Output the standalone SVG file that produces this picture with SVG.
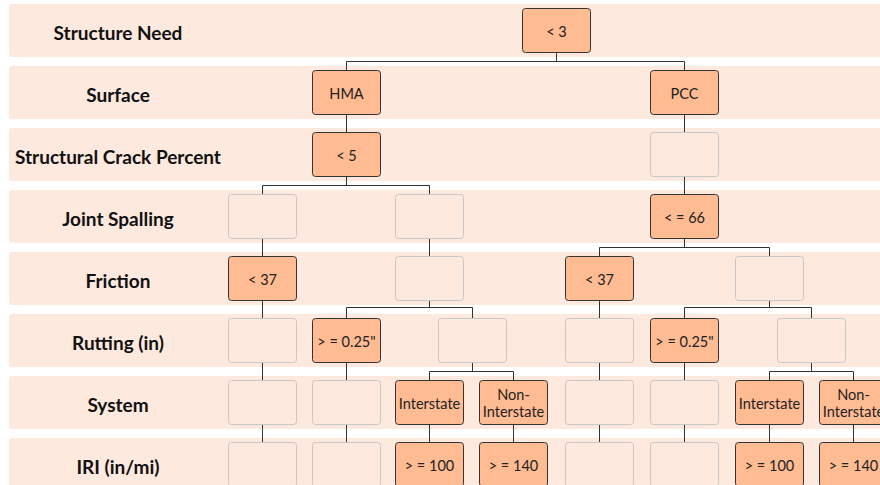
<svg xmlns="http://www.w3.org/2000/svg" width="880" height="485" viewBox="0 0 880 485">
<style>
.band{fill:#fde9dd}
.lbl{font-family:Lato,"Open Sans",sans-serif;font-weight:bold;font-size:19px;fill:#111;text-anchor:middle}
.on{fill:#ffbb92;stroke:#333;stroke-width:1}
.off{fill:#fde9dd;stroke:#c8c8c8;stroke-width:1}
.t{font-family:Lato,"Open Sans",sans-serif;font-size:14.5px;fill:#222;text-anchor:middle}
.conn{fill:none;stroke:#333;stroke-width:1}
</style>
<rect width="880" height="485" fill="#ffffff"/>
<g id="bands">
<rect class="band" x="9" y="4" width="880" height="53" rx="3"/>
<rect class="band" x="9" y="66" width="880" height="53" rx="3"/>
<rect class="band" x="9" y="128" width="880" height="53" rx="3"/>
<rect class="band" x="9" y="190" width="880" height="53" rx="3"/>
<rect class="band" x="9" y="252" width="880" height="53" rx="3"/>
<rect class="band" x="9" y="314" width="880" height="53" rx="3"/>
<rect class="band" x="9" y="376" width="880" height="53" rx="3"/>
<rect class="band" x="9" y="438" width="880" height="53" rx="3"/>
</g>
<g id="labels">
<text class="lbl" x="118" y="40">Structure Need</text>
<text class="lbl" x="118" y="102">Surface</text>
<text class="lbl" x="118" y="164">Structural Crack Percent</text>
<text class="lbl" x="118" y="226">Joint Spalling</text>
<text class="lbl" x="118" y="288">Friction</text>
<text class="lbl" x="118" y="350">Rutting (in)</text>
<text class="lbl" x="118" y="412">System</text>
<text class="lbl" x="118" y="474">IRI (in/mi)</text>
</g>
<g id="connectors">
<path class="conn" d="M556.5 52.5V61.5M346.5 70.5V61.5H684.5V70.5"/>
<path class="conn" d="M346.5 114.5V132.5M684.5 114.5V132.5"/>
<path class="conn" d="M346.5 176.5V185.5M262.5 194.5V185.5H429.5V194.5M684.5 176.5V194.5"/>
<path class="conn" d="M262.5 238.5V256.5M429.5 238.5V256.5M684.5 238.5V247.5M599.5 256.5V247.5H769.5V256.5"/>
<path class="conn" d="M262.5 300.5V318.5M429.5 300.5V307.5M346.5 318.5V307.5H472.5V318.5M599.5 300.5V318.5M769.5 300.5V307.5M684.5 318.5V307.5H811.5V318.5"/>
<path class="conn" d="M262.5 362.5V380.5M346.5 362.5V380.5M472.5 362.5V371.5M429.5 380.5V371.5H513.5V380.5M599.5 362.5V380.5M684.5 362.5V380.5M811.5 362.5V371.5M769.5 380.5V371.5H853.5V380.5"/>
<path class="conn" d="M262.5 424.5V442.5M346.5 424.5V442.5M429.5 424.5V442.5M513.5 424.5V442.5M599.5 424.5V442.5M684.5 424.5V442.5M769.5 424.5V442.5M853.5 424.5V442.5"/>
</g>
<g id="n-root"><rect class="on" x="522.5" y="8.5" width="68" height="44" rx="3"/><text class="t" x="556.5" y="36.5">&lt; 3</text></g>
<g id="n-hma"><rect class="on" x="312.5" y="70.5" width="68" height="44" rx="3"/><text class="t" x="346.5" y="98.5">HMA</text></g>
<g id="n-pcc"><rect class="on" x="650.5" y="70.5" width="68" height="44" rx="3"/><text class="t" x="684.5" y="98.5">PCC</text></g>
<g id="n-crack-hma"><rect class="on" x="312.5" y="132.5" width="68" height="44" rx="3"/><text class="t" x="346.5" y="160.5">&lt; 5</text></g>
<g id="n-crack-pcc"><rect class="off" x="650.5" y="132.5" width="68" height="44" rx="3"/></g>
<g id="n-js-1"><rect class="off" x="228.5" y="194.5" width="68" height="44" rx="3"/></g>
<g id="n-js-2"><rect class="off" x="395.5" y="194.5" width="68" height="44" rx="3"/></g>
<g id="n-js-3"><rect class="on" x="650.5" y="194.5" width="68" height="44" rx="3"/><text class="t" x="684.5" y="222.5">&lt; = 66</text></g>
<g id="n-fr-1"><rect class="on" x="228.5" y="256.5" width="68" height="44" rx="3"/><text class="t" x="262.5" y="284.5">&lt; 37</text></g>
<g id="n-fr-2"><rect class="off" x="395.5" y="256.5" width="68" height="44" rx="3"/></g>
<g id="n-fr-3"><rect class="on" x="565.5" y="256.5" width="68" height="44" rx="3"/><text class="t" x="599.5" y="284.5">&lt; 37</text></g>
<g id="n-fr-4"><rect class="off" x="735.5" y="256.5" width="68" height="44" rx="3"/></g>
<g id="n-ru-1"><rect class="off" x="228.5" y="318.5" width="68" height="44" rx="3"/></g>
<g id="n-ru-2"><rect class="on" x="312.5" y="318.5" width="68" height="44" rx="3"/><text class="t" x="346.5" y="346.5">&gt; = 0.25"</text></g>
<g id="n-ru-3"><rect class="off" x="438.5" y="318.5" width="68" height="44" rx="3"/></g>
<g id="n-ru-4"><rect class="off" x="565.5" y="318.5" width="68" height="44" rx="3"/></g>
<g id="n-ru-5"><rect class="on" x="650.5" y="318.5" width="68" height="44" rx="3"/><text class="t" x="684.5" y="346.5">&gt; = 0.25"</text></g>
<g id="n-ru-6"><rect class="off" x="777.5" y="318.5" width="68" height="44" rx="3"/></g>
<g id="n-sy-1"><rect class="off" x="228.5" y="380.5" width="68" height="44" rx="3"/></g>
<g id="n-sy-2"><rect class="off" x="312.5" y="380.5" width="68" height="44" rx="3"/></g>
<g id="n-sy-3"><rect class="on" x="395.5" y="380.5" width="68" height="44" rx="3"/><text class="t" x="429.5" y="408.5">Interstate</text></g>
<g id="n-sy-4"><rect class="on" x="479.5" y="380.5" width="68" height="44" rx="3"/><text class="t" x="513.5" y="399.5">Non-</text><text class="t" x="513.5" y="416.5">Interstate</text></g>
<g id="n-sy-5"><rect class="off" x="565.5" y="380.5" width="68" height="44" rx="3"/></g>
<g id="n-sy-6"><rect class="off" x="650.5" y="380.5" width="68" height="44" rx="3"/></g>
<g id="n-sy-7"><rect class="on" x="735.5" y="380.5" width="68" height="44" rx="3"/><text class="t" x="769.5" y="408.5">Interstate</text></g>
<g id="n-sy-8"><rect class="on" x="819.5" y="380.5" width="68" height="44" rx="3"/><text class="t" x="853.5" y="399.5">Non-</text><text class="t" x="853.5" y="416.5">Interstate</text></g>
<g id="n-iri-1"><rect class="off" x="228.5" y="442.5" width="68" height="44" rx="3"/></g>
<g id="n-iri-2"><rect class="off" x="312.5" y="442.5" width="68" height="44" rx="3"/></g>
<g id="n-iri-3"><rect class="on" x="395.5" y="442.5" width="68" height="44" rx="3"/><text class="t" x="429.5" y="470.5">&gt; = 100</text></g>
<g id="n-iri-4"><rect class="on" x="479.5" y="442.5" width="68" height="44" rx="3"/><text class="t" x="513.5" y="470.5">&gt; = 140</text></g>
<g id="n-iri-5"><rect class="off" x="565.5" y="442.5" width="68" height="44" rx="3"/></g>
<g id="n-iri-6"><rect class="off" x="650.5" y="442.5" width="68" height="44" rx="3"/></g>
<g id="n-iri-7"><rect class="on" x="735.5" y="442.5" width="68" height="44" rx="3"/><text class="t" x="769.5" y="470.5">&gt; = 100</text></g>
<g id="n-iri-8"><rect class="on" x="819.5" y="442.5" width="68" height="44" rx="3"/><text class="t" x="853.5" y="470.5">&gt; = 140</text></g>
</svg>
